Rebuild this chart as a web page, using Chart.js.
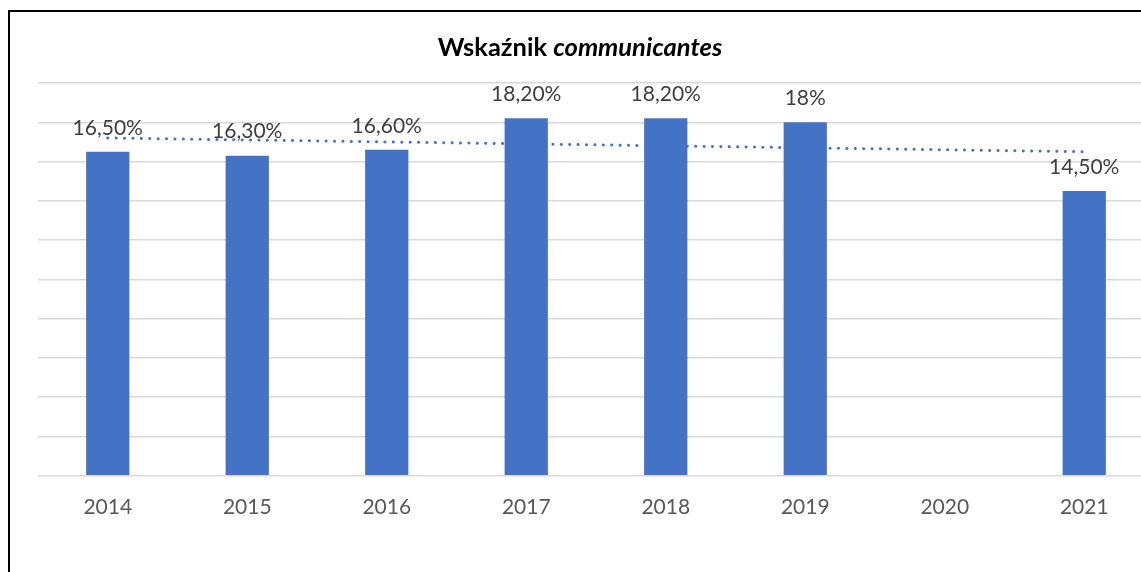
<!DOCTYPE html>
<html>
<head>
<meta charset="utf-8">
<script src="https://cdn.jsdelivr.net/npm/chart.js@4"></script>
<style>
  html, body { margin: 0; padding: 0; background: #fff; overflow: hidden; }
  body { width: 1141px; height: 572px; position: relative; }
  .frame { position: absolute; left: 8px; top: 10px; width: 1200px; height: 600px;
           border-left: 2px solid #000; border-top: 2px solid #000; }
  .wrap { position: absolute; left: 0; top: 0; width: 1170px; height: 572px; }
</style>
</head>
<body>
<div class="frame"></div>
<div class="wrap"><canvas id="chart"></canvas></div>
<script>
const years = ['2014', '2015', '2016', '2017', '2018', '2019', '2020', '2021'];
const rates = [16.5, 16.3, 16.6, 18.2, 18.2, 18, null, 14.5];
const trend = [17.2, null, null, null, null, null, null, 16.5];
const yTicks = [0, 2, 4, 6, 8, 10, 12, 14, 16, 18, 20];

const fontFamily = 'Lato, "Open Sans", sans-serif';

function fmt(v) {
  if (Number.isInteger(v)) return v + '%';
  return v.toFixed(2).replace('.', ',') + '%';
}

const titlePlugin = {
  id: 'mixedTitle',
  afterDraw(chart) {
    const ctx = chart.ctx;
    const a = 'Wskaźnik ', b = 'communicantes';
    ctx.save();
    ctx.fillStyle = '#000';
    ctx.textBaseline = 'middle';
    ctx.font = 'bold 25.5px ' + fontFamily;
    const wa = ctx.measureText(a).width;
    ctx.font = 'italic bold 25.5px ' + fontFamily;
    const wb = ctx.measureText(b).width;
    let x = 580 - (wa + wb) / 2;
    ctx.font = 'bold 25.5px ' + fontFamily;
    ctx.textAlign = 'left';
    ctx.fillText(a, x, 48);
    ctx.font = 'italic bold 25.5px ' + fontFamily;
    ctx.fillText(b, x + wa, 48);
    ctx.restore();
  }
};

const labelPlugin = {
  id: 'barLabels',
  afterDatasetsDraw(chart) {
    const ctx = chart.ctx;
    const meta = chart.getDatasetMeta(0);
    ctx.save();
    ctx.fillStyle = '#404040';
    ctx.font = '21px ' + fontFamily;
    ctx.textAlign = 'center';
    ctx.textBaseline = 'middle';
    meta.data.forEach((bar, i) => {
      if (rates[i] == null) return;
      ctx.fillText(fmt(rates[i]), bar.x, bar.y - 24);
    });
    ctx.restore();
  }
};

const data = {
  labels: years,
  datasets: [{
    type: 'bar',
    label: 'communicantes',
    data: rates,
    backgroundColor: '#4472C4',
    barPercentage: 0.31,
    categoryPercentage: 1,
    order: 1
  }, {
    type: 'line',
    label: 'trend',
    data: trend,
    borderColor: '#4472C4',
    borderWidth: 3,
    borderDash: [0.1, 8.3],
    borderCapStyle: 'round',
    pointRadius: 0,
    spanGaps: true,
    order: 2
  }]
};

const config = {
  data,
  options: {
    responsive: true,
    maintainAspectRatio: false,
    animation: false,
    layout: { padding: { left: 38, top: 83, right: 16, bottom: 41 } },
    plugins: { legend: { display: false }, title: { display: false }, tooltip: { enabled: false } },
    scales: {
      x: {
        grid: { display: false },
        border: { display: false },
        ticks: { color: '#595959', font: { family: fontFamily, size: 21 }, padding: 11 }
      },
      y: {
        min: 0,
        max: 20,
        afterBuildTicks: (axis) => { axis.ticks = yTicks.map(v => ({ value: v })); },
        grid: { color: '#d9d9d9', lineWidth: 1.5, drawTicks: false },
        border: { display: false },
        ticks: { display: false }
      }
    }
  },
  plugins: [titlePlugin, labelPlugin]
};

new Chart(document.getElementById('chart'), config);
</script>
</body>
</html>
